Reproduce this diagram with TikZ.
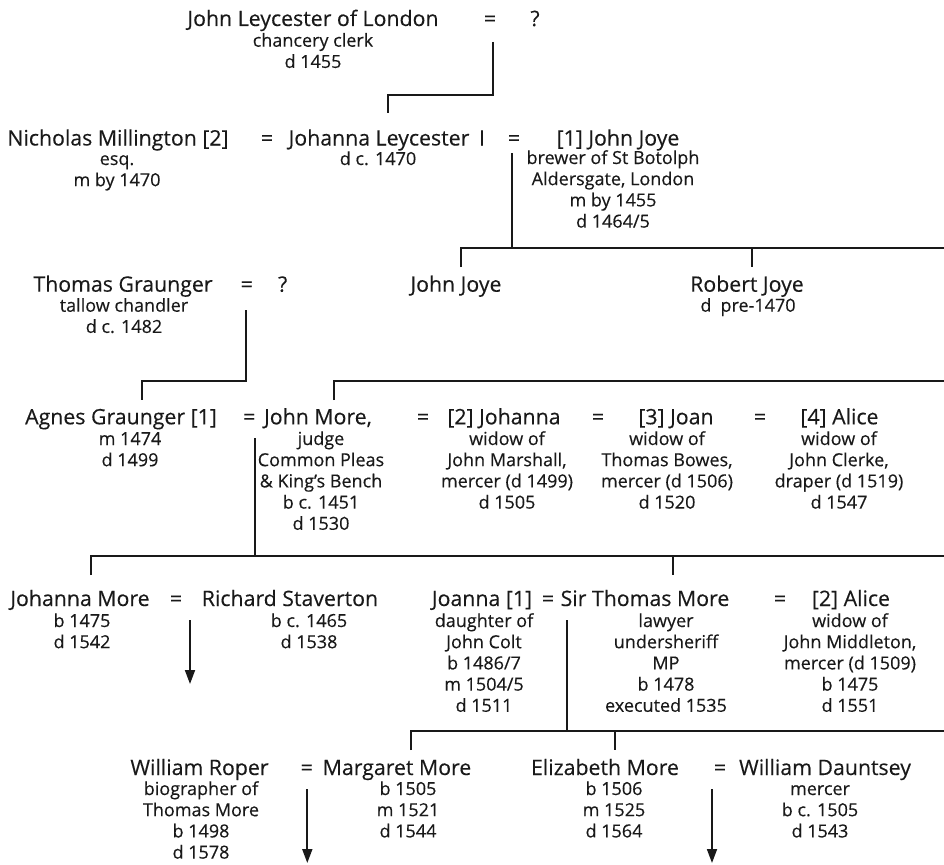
\documentclass[tikz,border=0pt]{standalone}
\usepackage{fontspec}
\setmainfont{Open Sans}[FakeBold=0.3]
\usetikzlibrary{arrows.meta}
\newcommand\lns[1]{\begin{tabular}[t]{@{}c@{}}#1\end{tabular}}
\begin{document}
\begin{tikzpicture}[x=1pt,y=-1pt,
  nm/.style={font=\fontsize{21.3}{24}\selectfont, anchor=base, inner sep=0pt, text=black!90},
  dt/.style={font=\fontsize{18}{21.2}\selectfont, anchor=base, inner sep=0pt, text=black!90},
  ln/.style={line width=1.8pt, draw=black!90},
  ar/.style={line width=1.8pt, draw=black!90, fill=black!90, -{Triangle[length=14pt,width=10pt]}}]
\useasboundingbox (0,0) rectangle (944,864);

% Row A
\node[nm] (jl) at (313,26) {John Leycester of London};
\node[nm] (eqA) at (490,26) {=};
\node[nm] (qA) at (535,26) {?};
\node[dt] (jld) at (313,46.7) {\lns{chancery clerk\\d 1455}};
\coordinate (a1) at (493,42);
\coordinate (a2) at (493,95);
\coordinate (a3) at (388,95);
\coordinate (a4) at (388,113);
\draw[ln] (a1) -- (a2) -- (a3) -- (a4);

% Row B
\node[nm] (nmil) at (118,145.5) {Nicholas Millington [2]};
\node[nm] (eqB1) at (267,145.5) {=};
\node[nm] (jley) at (379,145.5) {Johanna Leycester};
\node[nm] (barB) at (482,145.5) {I};
\node[nm] (eqB2) at (514,145.5) {=};
\node[nm] (jjoye) at (618,145.5) {[1] John Joye};
\node[dt] (nmild) at (117,165) {\lns{esq.\\m by 1470}};
\node[dt] (jleyd) at (378,165) {\lns{d c. 1470}};
\node[dt] (jjoyed) at (613,164) {\lns{brewer of St Botolph\\Aldersgate, London\\m by 1455\\d 1464/5}};
\coordinate (b1) at (512,153);
\coordinate (b2) at (512,248);
\coordinate (b3) at (461,248);
\coordinate (b4) at (944,248);
\coordinate (b5) at (461,267);
\coordinate (b6) at (752,248);
\coordinate (b7) at (752,267);
\draw[ln] (b1) -- (b2);
\draw[ln] (b5) -- (b3) -- (b4);
\draw[ln] (b6) -- (b7);

% Row C
\node[nm] (tgr) at (123,291.7) {Thomas Graunger};
\node[nm] (eqC) at (246.7,291.7) {=};
\node[nm] (qC) at (282.7,291.7) {?};
\node[dt] (tgrd) at (124,311.7) {\lns{tallow chandler\\d c. 1482}};
\node[nm] (jjoye2) at (456,291.7) {John Joye};
\node[nm] (rjoye) at (747,291.7) {Robert Joye};
\node[dt] (rjoyed) at (748,311.7) {\lns{d\enspace pre-1470}};
\coordinate (c1) at (246,310);
\coordinate (c2) at (246,381);
\coordinate (c3) at (142,381);
\coordinate (c4) at (142,400);
\draw[ln] (c1) -- (c2) -- (c3) -- (c4);
\coordinate (c5) at (334,400);
\coordinate (c6) at (334,381);
\coordinate (c7) at (944,381);
\draw[ln] (c5) -- (c6) -- (c7);

% Row D
\node[nm] (agr) at (121,424.3) {Agnes Graunger [1]};
\node[nm] (eqD1) at (249.3,424.3) {=};
\node[nm] (jmore) at (318,424.3) {John More,};
\node[nm] (eqD2) at (423,424.3) {=};
\node[nm] (joh2) at (504,424.3) {[2] Johanna};
\node[nm] (eqD3) at (598,424.3) {=};
\node[nm] (joan3) at (676,424.3) {[3] Joan};
\node[nm] (eqD4) at (760,424.3) {=};
\node[nm] (alice4) at (839.5,424.3) {[4] Alice};
\node[dt] (agrd) at (130,445) {\lns{m 1474\\d 1499}};
\node[dt] (jmored) at (321,445) {\lns{judge\\Common Pleas\\\& King’s Bench\\b c. 1451\\d 1530}};
\node[dt] (joh2d) at (507,445) {\lns{widow of\\John Marshall,\\mercer (d 1499)\\d 1505}};
\node[dt] (joan3d) at (667,445) {\lns{widow of\\Thomas Bowes,\\mercer (d 1506)\\d 1520}};
\node[dt] (alice4d) at (839,445) {\lns{widow of\\John Clerke,\\draper (d 1519)\\d 1547}};
\coordinate (d1) at (255,438);
\coordinate (d2) at (255,556);
\coordinate (d3) at (91,556);
\coordinate (d4) at (944,556);
\coordinate (d5) at (91,575);
\coordinate (d6) at (673,556);
\coordinate (d7) at (673,575);
\draw[ln] (d1) -- (d2);
\draw[ln] (d5) -- (d3) -- (d4);
\draw[ln] (d6) -- (d7);

% Row E
\node[nm] (jomore) at (80,606) {Johanna More};
\node[nm] (eqE1) at (176,606) {=};
\node[nm] (rstav) at (290,606) {Richard Staverton};
\node[nm] (joanna) at (482,606) {Joanna [1]};
\node[nm] (eqE2) at (548,606) {=};
\node[nm] (stm) at (645,606) {Sir Thomas More};
\node[nm] (eqE3) at (780,606) {=};
\node[nm] (alice2) at (851,606) {[2] Alice};
\node[dt] (jomored) at (82,627) {\lns{b 1475\\d 1542}};
\node[dt] (rstavd) at (309,627) {\lns{b c. 1465\\d 1538}};
\node[dt] (joannad) at (484,627) {\lns{daughter of\\John Colt\\b 1486/7\\m 1504/5\\d 1511}};
\node[dt] (stmd) at (666,627) {\lns{lawyer\\undersheriff\\MP\\b 1478\\executed 1535}};
\node[dt] (alice2d) at (850,627) {\lns{widow of\\John Middleton,\\mercer (d 1509)\\b 1475\\d 1551}};
\coordinate (e1) at (190,620);
\coordinate (e2) at (190,684);
\draw[ar] (e1) -- (e2);
\coordinate (e3) at (567,620);
\coordinate (e4) at (567,731);
\coordinate (e5) at (411,731);
\coordinate (e6) at (944,731);
\coordinate (e7) at (411,750);
\coordinate (e8) at (615,731);
\coordinate (e9) at (615,750);
\draw[ln] (e3) -- (e4);
\draw[ln] (e7) -- (e5) -- (e6);
\draw[ln] (e8) -- (e9);

% Row F
\node[nm] (wroper) at (199.5,775) {William Roper};
\node[nm] (eqF1) at (306.7,775) {=};
\node[nm] (mmore) at (397,775) {Margaret More};
\node[nm] (emore) at (605,775) {Elizabeth More};
\node[nm] (eqF2) at (720,775) {=};
\node[nm] (wdaun) at (825,775) {William Dauntsey};
\node[dt] (wroperd) at (201,795) {\lns{biographer of\\Thomas More\\b 1498\\d 1578}};
\node[dt] (mmored) at (408,795) {\lns{b 1505\\m 1521\\d 1544}};
\node[dt] (emored) at (614,795) {\lns{b 1506\\m 1525\\d 1564}};
\node[dt] (wdaund) at (820,795) {\lns{mercer\\b c. 1505\\d 1543}};
\coordinate (f1) at (307.3,789);
\coordinate (f2) at (307.3,863);
\coordinate (f3) at (712,789);
\coordinate (f4) at (712,863);
\draw[ar] (f1) -- (f2);
\draw[ar] (f3) -- (f4);
\end{tikzpicture}
\end{document}
